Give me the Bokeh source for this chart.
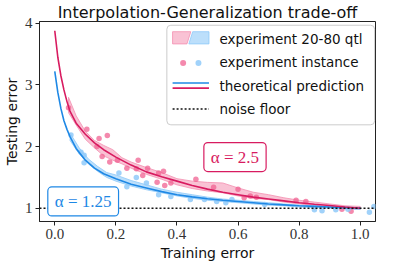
from bokeh.plotting import figure
from bokeh.models import (Range1d, FixedTicker, Span, Label, BoxAnnotation,
                          PolyAnnotation, Arrow, PrintfTickFormatter)
from bokeh.embed import file_html
from bokeh.resources import INLINE

# ---------------- data ----------------
theory_x = [0.0, 0.01, 0.02, 0.03, 0.04, 0.05, 0.07, 0.10, 0.13, 0.16, 0.20, 0.25,
            0.30, 0.35, 0.40, 0.45, 0.50, 0.55, 0.60, 0.65, 0.70, 0.75, 0.80, 0.85,
            0.90, 0.95, 1.0]
theory_a250 = [3.88, 3.45, 3.15, 2.92, 2.73, 2.57, 2.38, 2.20, 2.06, 1.95, 1.83, 1.70,
               1.59, 1.51, 1.44, 1.37, 1.31, 1.26, 1.22, 1.18, 1.15, 1.12, 1.09, 1.065,
               1.045, 1.02, 1.0]
theory_a125 = [3.22, 2.88, 2.62, 2.42, 2.28, 2.16, 1.97, 1.78, 1.65, 1.56, 1.48, 1.39,
               1.33, 1.27, 1.22, 1.185, 1.155, 1.13, 1.11, 1.09, 1.07, 1.055, 1.04, 1.03,
               1.02, 1.01, 1.0]

band_a250_x = [0.045, 0.07, 0.10, 0.13, 0.16, 0.19, 0.22, 0.25, 0.30, 0.35, 0.40, 0.45,
               0.50, 0.55, 0.60, 0.65, 0.70, 0.75, 0.80, 0.85, 0.90, 0.95, 1.0]
band_a250_lo = [2.55, 2.35, 2.12, 1.98, 1.85, 1.78, 1.72, 1.65, 1.55, 1.47, 1.38, 1.32,
                1.28, 1.25, 1.20, 1.16, 1.14, 1.10, 1.07, 1.04, 1.02, 1.00, 0.98]
band_a250_hi = [2.80, 2.50, 2.25, 2.10, 2.02, 1.95, 1.82, 1.75, 1.66, 1.58, 1.48, 1.44,
                1.42, 1.41, 1.33, 1.26, 1.22, 1.17, 1.13, 1.10, 1.07, 1.04, 1.03]

band_a125_x = [0.05, 0.08, 0.11, 0.14, 0.17, 0.20, 0.25, 0.30, 0.35, 0.40, 0.45, 0.50,
               0.55, 0.60, 0.65, 0.70, 0.75, 0.80, 0.85, 0.90, 0.95, 1.0]
band_a125_lo = [2.10, 1.88, 1.72, 1.60, 1.50, 1.44, 1.36, 1.30, 1.25, 1.20, 1.16, 1.13,
                1.11, 1.09, 1.07, 1.05, 1.04, 1.02, 1.01, 1.00, 0.99, 0.98]
band_a125_hi = [2.22, 1.98, 1.80, 1.68, 1.58, 1.54, 1.45, 1.38, 1.31, 1.26, 1.22, 1.18,
                1.15, 1.13, 1.11, 1.09, 1.07, 1.05, 1.04, 1.03, 1.02, 1.01]

pts_a250_x = [0.045, 0.105, 0.145, 0.172, 0.138, 0.155, 0.18, 0.205, 0.236, 0.267,
              0.273, 0.288, 0.304, 0.335, 0.34, 0.356, 0.36, 0.38, 0.462, 0.52, 0.60,
              0.62, 0.64, 0.66, 0.79, 0.822, 0.94, 0.97]
pts_a250_y = [2.63, 2.28, 2.13, 2.18, 2.00, 1.84, 1.75, 1.78, 1.65, 1.64,
              1.78, 1.53, 1.65, 1.42, 1.57, 1.60, 1.37, 1.41, 1.47, 1.34, 1.31,
              1.17, 1.20, 1.18, 1.13, 1.11, 0.985, 0.95]

pts_a125_x = [0.053, 0.086, 0.096, 0.096, 0.21, 0.236, 0.267, 0.30, 0.34, 0.38,
              0.444, 0.49, 0.53, 0.56, 0.58, 0.687, 0.85, 0.875, 0.92, 0.96, 1.03, 1.045]
pts_a125_y = [2.19, 1.91, 1.86, 1.74, 1.57, 1.35, 1.50, 1.41, 1.22, 1.19,
              1.14, 1.14, 1.11, 1.09, 1.14, 1.06, 0.975, 0.96, 0.975, 0.985, 0.935, 1.03]

noise_floor = 1.0
x_ticks = [0.0, 0.2, 0.4, 0.6, 0.8, 1.0]
y_ticks = [1, 2, 3, 4]
alpha_labels = ["α = 1.25", "α = 2.5"]
legend_labels = ["experiment 20-80 qtl", "experiment instance",
                 "theoretical prediction", "noise floor"]

# ---------------- styles ----------------
RED = "#d81b60"
BLUE = "#1e88e5"
RED_PT = "#f06292"
BLUE_PT = "#90caf9"
RED_BAND = "#f48fb1"
BLUE_BAND = "#90caf9"
SANS = "DejaVu Sans"
SERIF = "Liberation Serif"

W, H = 377, 263
ML, MR, MT, MB = 37, 2, 20, 39
FW, FH = W - ML - MR, H - MT - MB

p = figure(width=W, height=H, output_backend="svg", toolbar_location=None,
           x_range=Range1d(-0.05, 1.05), y_range=Range1d(0.785, 4.03),
           min_border_left=ML, min_border_right=MR, min_border_top=MT,
           min_border_bottom=MB)

p.title.text = "Interpolation-Generalization trade-off"
p.title.align = "center"
p.title.text_font = SANS
p.title.text_font_size = "16px"
p.title.text_font_style = "normal"
p.title.text_color = "#111111"
p.title.standoff = 0

p.grid.visible = False
p.outline_line_color = "#222222"
p.outline_line_width = 1
p.outline_line_alpha = 1

for ax in (p.xaxis, p.yaxis):
    ax.axis_line_color = "#222222"
    ax.major_tick_line_color = "#222222"
    ax.minor_tick_line_color = None
    ax.major_tick_in = 0
    ax.major_tick_out = 4
    ax.major_label_text_font = SERIF
    ax.major_label_text_font_size = "15px"
    ax.major_label_text_color = "#333333"
    ax.axis_label_text_font = SANS
    ax.axis_label_text_font_size = "14px"
    ax.axis_label_text_font_style = "normal"
    ax.axis_label_text_color = "#111111"
p.xaxis.ticker = FixedTicker(ticks=x_ticks)
p.yaxis.ticker = FixedTicker(ticks=y_ticks)
p.xaxis.formatter = PrintfTickFormatter(format="%.1f")
p.xaxis.axis_label = "Training error"
p.yaxis.axis_label = "Testing error"
p.xaxis.major_label_standoff = 3
p.yaxis.major_label_standoff = 3
p.xaxis.axis_label_standoff = 3
p.yaxis.axis_label_standoff = 2

# bands
p.patch(band_a250_x + band_a250_x[::-1], band_a250_lo + band_a250_hi[::-1],
        fill_color=RED_BAND, fill_alpha=0.55, line_color=RED_BAND, line_alpha=0.9,
        line_width=0.9)
p.patch(band_a125_x + band_a125_x[::-1], band_a125_lo + band_a125_hi[::-1],
        fill_color=BLUE_BAND, fill_alpha=0.6, line_color=BLUE_BAND, line_alpha=0.9,
        line_width=0.9)

# points
p.scatter(pts_a250_x, pts_a250_y, size=5.5, fill_color=RED_PT, fill_alpha=0.75,
          line_color=None)
p.scatter(pts_a125_x, pts_a125_y, size=5.5, fill_color=BLUE_PT, fill_alpha=0.85,
          line_color=None)

# theory
p.line(theory_x, theory_a125, line_color=BLUE, line_width=1.6)
p.line(theory_x, theory_a250, line_color=RED, line_width=1.6)

# noise floor
p.add_layout(Span(location=noise_floor, dimension="width", line_color="#111111",
                  line_width=1.6, line_dash="2 2"))

# alpha labels
p.add_layout(Label(x=0.093, y=1.11, text=alpha_labels[0], text_align="center",
                   text_baseline="middle", text_font=SERIF, text_font_size="17px",
                   text_color=BLUE, background_fill_color="white",
                   background_fill_alpha=1, border_line_color=BLUE,
                   border_line_width=1.2, padding=(7, 5), border_radius=4))
p.add_layout(Label(x=0.59, y=1.83, text=alpha_labels[1], text_align="center",
                   text_baseline="middle", text_font=SERIF, text_font_size="17px",
                   text_color=RED, background_fill_color="white",
                   background_fill_alpha=1, border_line_color=RED,
                   border_line_width=1.2, padding=(7, 5), border_radius=4))

# ---------------- manual legend (layout in screen px, frame-relative) ----------------
def sx(X):
    return (X - 38) * FW / 353.0


def sy(Y):
    return (233 - Y) * FH / 211.0


p.add_layout(BoxAnnotation(left=sx(171), right=sx(388), top=sy(30), bottom=sy(133),
                           left_units="screen", right_units="screen",
                           top_units="screen", bottom_units="screen",
                           fill_color="white", fill_alpha=0.85,
                           line_color="#cccccc", line_alpha=1, line_width=1,
                           border_radius=4))
# row 1: split band patch
p.add_layout(PolyAnnotation(xs=[sx(177), sx(196), sx(192), sx(177)],
                            ys=[sy(36.7), sy(36.7), sy(49.3), sy(49.3)],
                            xs_units="screen", ys_units="screen",
                            fill_color=RED_BAND, fill_alpha=0.55,
                            line_color=RED_BAND, line_alpha=0.9, line_width=0.9))
p.add_layout(PolyAnnotation(xs=[sx(198), sx(215), sx(215), sx(194)],
                            ys=[sy(36.7), sy(36.7), sy(49.3), sy(49.3)],
                            xs_units="screen", ys_units="screen",
                            fill_color=BLUE_BAND, fill_alpha=0.6,
                            line_color=BLUE_BAND, line_alpha=0.9, line_width=0.9))
# row 2: dots
for cx, col, a in ((188, RED_PT, 0.75), (204, BLUE_PT, 0.85)):
    p.add_layout(BoxAnnotation(left=sx(cx) - 3, right=sx(cx) + 3,
                               top=sy(69) + 3, bottom=sy(69) - 3,
                               left_units="screen", right_units="screen",
                               top_units="screen", bottom_units="screen",
                               fill_color=col, fill_alpha=a, line_color=None,
                               border_radius=3))
# row 3: lines
for yy, col in ((89.7, BLUE), (95.0, RED)):
    p.add_layout(BoxAnnotation(left=sx(177), right=sx(215),
                               top=sy(yy) + 0.8, bottom=sy(yy) - 0.8,
                               left_units="screen", right_units="screen",
                               top_units="screen", bottom_units="screen",
                               fill_color=col, fill_alpha=1, line_color=None))
# row 4: dotted
p.add_layout(Arrow(end=None, x_start=sx(177), y_start=sy(116.7), x_end=sx(215),
                   y_end=sy(116.7), start_units="screen", end_units="screen",
                   line_color="#111111", line_width=1.6, line_dash="2 2"))
for i, (lab, yy) in enumerate(zip(legend_labels, (44.5, 68.5, 93.0, 117.0))):
    p.add_layout(Label(x=sx(226), y=sy(yy), x_units="screen", y_units="screen",
                       text=lab, text_align="left", text_baseline="middle",
                       text_font=SANS, text_font_size="13.5px", text_color="#111111"))

open("out.html", "w").write(file_html(p, INLINE))
